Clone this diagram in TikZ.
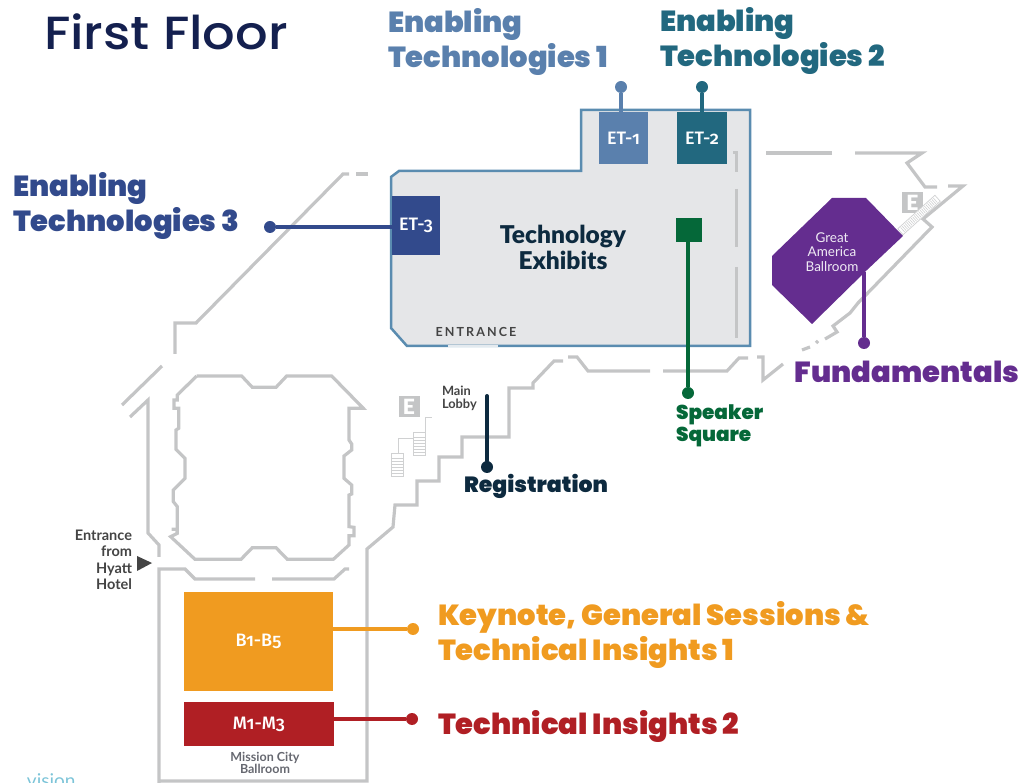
\documentclass[tikz,border=0pt]{standalone}
\usepackage{fontspec}
\usetikzlibrary{shapes.geometric}
\setmainfont{Lato}
\newfontfamily\headfont{Poppins Black}
\newfontfamily\blackfont{Lato Black}
\newfontfamily\titlefont[FakeStretch=1.1]{Poppins Medium}
\newfontfamily\roomfont[Numbers=OldStyle]{Fira Sans Medium}
\definecolor{wall}{HTML}{C4C5C6}
\definecolor{hallfill}{HTML}{E5E6E8}
\definecolor{hallline}{HTML}{5A8CB0}
\definecolor{navy}{HTML}{14204F}
\definecolor{etone}{HTML}{5A80AD}
\definecolor{ettwo}{HTML}{22687F}
\definecolor{etthree}{HTML}{324A8C}
\definecolor{speaker}{HTML}{056839}
\definecolor{purp}{HTML}{642D8F}
\definecolor{regc}{HTML}{0D2A3F}
\definecolor{orangec}{HTML}{F09B20}
\definecolor{redc}{HTML}{B01F24}
\definecolor{darkt}{HTML}{444444}
\definecolor{midt}{HTML}{666870}
\definecolor{stairc}{HTML}{D0D1D2}
\definecolor{teal}{HTML}{7CC4D8}
\tikzset{
  x=1pt,y=-1pt,
  every node/.style={inner sep=0pt,outer sep=0pt},
  wallline/.style={draw=wall,line width=3.2pt,line join=miter},
  stairline/.style={draw=stairc,line width=1pt},
  room/.style={anchor=center,text=white,font=\roomfont\fontsize{18}{20}\selectfont},
  headline/.style={anchor=base west,align=left,font=\headfont\fontsize{29}{35}\selectfont},
  pin/.style={circle,minimum size=12pt},
  conn/.style={line width=4pt},
  ebox/.style={draw=none,fill=wall,minimum size=21pt,text=white,font=\blackfont\fontsize{21}{21}\selectfont},
  stairbox/.style={draw=stairc,line width=.7pt,fill=white},
}
\begin{document}
\begin{tikzpicture}
\useasboundingbox (0,0) rectangle (1021,783);
% walls
\draw[wallline] (368,174) -- (356,174);
\draw[wallline] (349,174) -- (343,174) -- (196,323) -- (175,323) -- (175,354);
\draw[wallline] (162,366) -- (122,405);
\draw[wallline] (130,417) -- (148,400) -- (148,533) -- (159,545) -- (159,557);
\draw[wallline] (159,783) -- (159,569) -- (185,569) -- (195,579) -- (255,579);
\draw[wallline] (272,579) -- (334,579) -- (345,569) -- (349,569);
\draw[wallline] (159,781) -- (367,781) -- (367,549) -- (393,527) -- (395,505) -- (417,505) -- (417,481) -- (439,481) -- (439,457) -- (462,457) -- (462,437) -- (509,437) -- (509,388) -- (533,388) -- (533,383) -- (554,361) -- (563,361);
\draw[wallline] (568,357) -- (577,357) -- (588,371) -- (650,371);
\draw[wallline] (663,371) -- (727,371) -- (739,358) -- (748,358);
\draw[wallline] (757,357) -- (763,357) -- (763,380) -- (783,364);
\draw[wallline] (802,350) -- (810,347);
\draw[wallline] (816,343) -- (818,341);
\draw[wallline] (825,339) -- (837,332) -- (833,326) -- (850,313) -- (858,303) -- (932,227) -- (923,219) -- (963,186) -- (948,186);
\draw[wallline] (937,187) -- (925,187) -- (907,163) -- (922,153) -- (855,153);
\draw[wallline] (832,153) -- (766,153);
% central block
\begin{scope}[shift={(130,370)},x=0.33333pt,y=-0.33333pt]
\draw[wallline] (200,18) -- (335,18) -- (367,52) -- (438,52) -- (470,18) -- (605,18) -- (700,115) -- (657,115) -- (657,210) -- (665,222) -- (665,240) -- (642,258) -- (642,325) -- (665,345) -- (665,372) -- (657,375) -- (657,470) -- (672,472) -- (672,497) -- (657,497) -- (657,525) -- (610,568) -- (472,568) -- (438,533) -- (367,533) -- (333,568) -- (195,568) -- (122,500) -- (142,490) -- (142,478) -- (125,478);
\draw[wallline] (142,490) -- (142,410) -- (130,395) -- (130,360) -- (165,325) -- (165,265) -- (138,238) -- (138,180) -- (146,175) -- (146,115) -- (132,115) -- (132,90) -- (142,90) -- (142,75) -- (200,18);
\end{scope}
% exhibit hall
\draw[draw=hallline,fill=hallfill,line width=2.5pt,line join=miter] (581,110) -- (750,110) -- (750,346) -- (407,346) -- (391,328) -- (391,177) -- (399,171) -- (581,171) -- cycle;
\draw[draw=hallfill!70!hallline!40!white,line width=2.5pt] (448,346) -- (498,346);
\draw[wall,line width=3pt] (733,153) -- (736,153) -- (736,172);
\draw[wall,line width=3pt] (736,189) -- (736,247);
\draw[wall,line width=3pt] (736,267) -- (736,338);
\node[room,fill=etone,minimum width=49pt,minimum height=52pt] (et1) at (623.5,138) {ET-1};
\node[room,fill=ettwo,minimum width=50pt,minimum height=52pt] (et2) at (702,138) {ET-2};
\node[room,fill=etthree,minimum width=48pt,minimum height=59pt] (et3) at (416,225.5) {ET-3};
\node[fill=speaker,minimum width=26pt,minimum height=24pt] (spk) at (689,230) {};
\node[anchor=center,align=center,text=regc,font=\blackfont\fontsize{24.5}{26}\selectfont] (texh) at (563,247) {Technology\\Exhibits};
\node[anchor=center,text=darkt,font=\fontsize{12.5}{13}\selectfont\bfseries] (entr) at (476,332) {E\,N\,T\,R\,A\,N\,C\,E};
% Great America
\path[fill=purp] (832,198) -- (866,198) -- (903,236) -- (867,270) -- (812,324) -- (772,285) -- (772,256) -- cycle;
\coordinate (gam) at (864,272);
\node[anchor=center,align=center,text=white!90!purp,font=\fontsize{13.5}{14.5}\selectfont] (gamt) at (832,252) {Great\\America\\Ballroom};
\node[fill=white,diamond,minimum size=6pt] (gamd) at (858,283) {};
% E boxes and stairs
\node[ebox] (e1) at (912.5,202.5) {E};
\begin{scope}[rotate around={42:(919,215)}]
\draw[stairbox] (894,211) rectangle (944,219);
\foreach \xx in {897,899,...,941} \draw[stairline,line width=.6pt] (\xx,212) -- (\xx,218);
\end{scope}
\node[ebox] (e2) at (409,407) {E};
\draw[stairline] (413,433) rectangle (425,456);
\draw[stairline] (391,454) rectangle (403,477);
\draw[stairline] (398,454) -- (398,439) -- (413,439);
\draw[stairline] (425,433) -- (425,418) -- (432,418);
\foreach \yy in {437,440,443,446,449,452} \draw[stairline,line width=.7pt] (413,\yy) -- (425,\yy);
\foreach \yy in {458,461,464,467,470,473} \draw[stairline,line width=.7pt] (391,\yy) -- (403,\yy);
% lower rooms
\node[room,fill=orangec,minimum width=149pt,minimum height=99pt] (b15) at (258.5,641.5) {B1-B5};
\node[room,fill=redc,minimum width=150pt,minimum height=44pt] (m13) at (259,724) {M1-M3};
% pins
\node[pin,fill=etone] (p1) at (621,87) {};
\node[pin,fill=ettwo] (p2) at (702,87) {};
\node[pin,fill=etthree] (p3) at (270,227) {};
\node[pin,fill=speaker] (p4) at (688,393) {};
\node[pin,fill=purp] (p5) at (864,343) {};
\node[pin,fill=regc] (p6) at (487,467) {};
\node[pin,fill=orangec] (p7) at (413,629) {};
\node[pin,fill=redc] (p8) at (412,719) {};
\coordinate (regtop) at (487,396);
\draw[conn,etone] (p1) -- (p1 |- et1.north);
\draw[conn,ettwo] (p2) -- (et2.north);
\draw[conn,etthree] (p3) -- (p3 -| et3.west);
\draw[conn,speaker] (p4) -- (p4 |- spk.south);
\draw[conn,purp] (p5) -- (gam);
\draw[conn,regc,line cap=round] (p6) -- (regtop);
\draw[conn,orangec] (p7) -- (p7 -| b15.east);
\draw[conn,redc] (p8) -- (p8 -| m13.east);
% labels
\node[anchor=base west,text=navy,font=\titlefont\fontsize{46.5}{50}\selectfont] (title) at (44,50) {First Floor};
\node[headline,text=etone] (l1) at (388,68) {Enabling\\Technologies 1};
\node[headline,text=ettwo] (l2) at (660,67) {Enabling\\Technologies 2};
\node[headline,text=etthree] (l3) at (13,232) {Enabling\\Technologies 3};
\node[anchor=base west,align=left,text=speaker,font=\headfont\fontsize{20}{22}\selectfont] (l4) at (676,442) {Speaker\\Square};
\node[anchor=base,text=purp,font=\headfont\fontsize{29}{31}\selectfont] (l5) at (907,383) {Fundamentals};
\node[anchor=base,text=regc,font=\headfont\fontsize{22}{26}\selectfont] (l6) at (536,493) {Registration};
\node[headline,text=orangec] (l7) at (438,660) {Keynote, General Sessions \&\\Technical Insights 1};
\node[anchor=base west,text=redc,font=\headfont\fontsize{29}{31}\selectfont] (l8) at (438,734) {Technical Insights 2};
\node[anchor=north east,align=right,text=darkt,font=\fontsize{14.5}{16.3}\selectfont\bfseries] (l9) at (132,530) {Entrance\\from\\Hyatt\\Hotel};
\path[fill=darkt] (137,556) -- (152,563) -- (137,571) -- cycle;
\node[anchor=north west,align=left,text=darkt,font=\fontsize{12.8}{13}\selectfont\bfseries] (l10) at (442,386) {Main\\Lobby};
\node[anchor=north,align=center,text=midt,font=\fontsize{12.5}{11}\selectfont\bfseries] (l11) at (265,752) {Mission City\\Ballroom};
\node[anchor=base west,text=teal,font=\fontsize{19}{22}\selectfont] (l12) at (27,787) {vision};
\end{tikzpicture}
\end{document}
